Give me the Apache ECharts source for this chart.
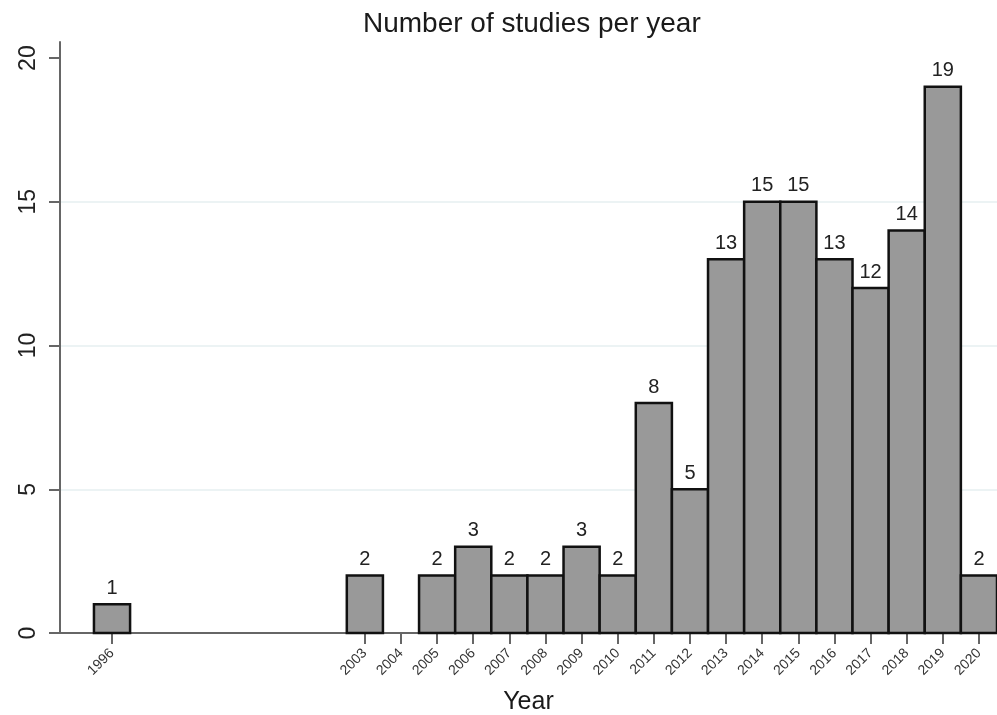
<!DOCTYPE html>
<html><head><meta charset="utf-8">
<script src="https://cdn.jsdelivr.net/npm/echarts@6/dist/echarts.min.js"></script>
<style>html,body{margin:0;padding:0;background:#fff}#c{width:997px;height:715px}</style>
</head><body><div id="c"></div>
<script>
const years = [1996, 2003, 2005, 2006, 2007, 2008, 2009, 2010, 2011, 2012, 2013, 2014, 2015, 2016, 2017, 2018, 2019, 2020];
const counts = [1, 2, 2, 3, 2, 2, 3, 2, 8, 5, 13, 15, 15, 13, 12, 14, 19, 2];
const xTickYears = [1996, 2003, 2004, 2005, 2006, 2007, 2008, 2009, 2010, 2011, 2012, 2013, 2014, 2015, 2016, 2017, 2018, 2019, 2020];
const yTicks = [0, 5, 10, 15, 20];

const chart = echarts.init(document.getElementById('c'));
const font = 'Liberation Sans, Arial, sans-serif';
chart.setOption({
  animation: false,
  title: {text: 'Number of studies per year', left: 358, top: 5,
    textStyle: {fontFamily: font, fontSize: 28, fontWeight: 'normal', color: '#1a1a1a'}},
  grid: {left: 60, right: 0, top: 42, bottom: 82, containLabel: false, outerBoundsMode: 'none'},
  xAxis: {
    type: 'value', min: 1994.56, max: 2020.5,
    name: 'Year', nameLocation: 'middle', nameGap: 57,
    nameTextStyle: {fontFamily: font, fontSize: 25, color: '#1a1a1a'},
    axisLine: {show: true, lineStyle: {color: '#666', width: 2}},
    axisTick: {show: true, length: 11, lineStyle: {color: '#666', width: 2}, customValues: xTickYears},
    axisLabel: {rotate: 45, fontFamily: font, fontSize: 14, color: '#333', margin: 18, customValues: xTickYears,
      formatter: v => String(v)},
    splitLine: {show: false}
  },
  yAxis: {
    type: 'value', min: 0, max: 20.56,
    axisLine: {show: true, lineStyle: {color: '#666', width: 2}},
    axisTick: {show: true, length: 11, lineStyle: {color: '#666', width: 2}, customValues: yTicks},
    axisLabel: {rotate: 90, fontFamily: font, fontSize: 23, color: '#222', margin: 20, customValues: yTicks},
    splitLine: {show: true, lineStyle: {color: '#e6eff1', width: 1.5}, showMinLine: false, showMaxLine: false}
  },
  series: [{
    type: 'custom',
    data: years.map((y, i) => [y, counts[i]]),
    encode: {x: 0, y: 1},
    renderItem: function (params, api) {
      const yr = api.value(0), v = api.value(1);
      const p0 = api.coord([yr - 0.5, v]);
      const p1 = api.coord([yr + 0.5, 0]);
      return {
        type: 'group',
        children: [
          {type: 'rect', shape: {x: p0[0], y: p0[1], width: p1[0] - p0[0], height: p1[1] - p0[1]},
           style: {fill: '#999999', stroke: '#111', lineWidth: 2.5}},
          {type: 'text', x: (p0[0] + p1[0]) / 2, y: p0[1] - 6,
           style: {text: String(v), fill: '#222', fontSize: 20, fontFamily: font, align: 'center', verticalAlign: 'bottom'}}
        ]
      };
    }
  }]
});
</script></body></html>
